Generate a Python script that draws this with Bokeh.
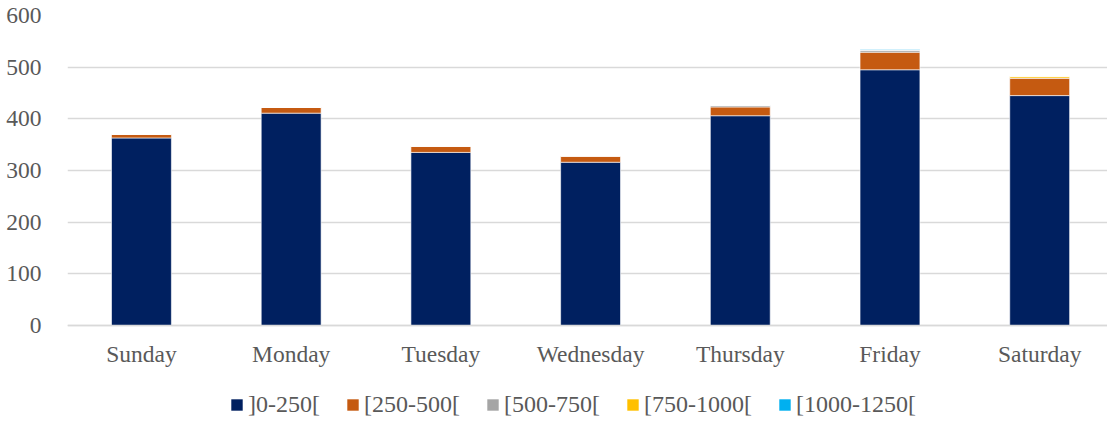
from bokeh.plotting import figure
from bokeh.models import Range1d, FixedTicker, Legend, LegendItem
from bokeh.embed import file_html
from bokeh.resources import INLINE

days = ["Sunday", "Monday", "Tuesday", "Wednesday", "Thursday", "Friday", "Saturday"]
series_names = ["]0-250[", "[250-500[", "[500-750[", "[750-1000[", "[1000-1250["]
s0_250 = [363, 411, 335, 316, 406, 495, 445]
s250_500 = [7, 11, 12, 12, 17, 34, 34]
s500_750 = [0, 0, 0, 0, 3, 4, 0]
s750_1000 = [0, 0, 0, 0, 0, 0, 3]
s1000_1250 = [0, 0, 0, 0, 0, 1, 0]
y_ticks = [0, 100, 200, 300, 400, 500, 600]
colors = ["#002060", "#C55A11", "#A5A5A5", "#FFC000", "#00B0F0"]

FONT = "Liberation Serif"
TXT = "#595959"
GRID = "#D9D9D9"

x = list(range(len(days)))
keys = ["s0", "s1", "s2", "s3", "s4"]
data = dict(x=x, s0=s0_250, s1=s250_500, s2=s500_750, s3=s750_1000, s4=s1000_1250)

# frame spans the full height below the top margin; value 0 sits 96 px above the bottom
p = figure(width=1107, height=421, output_backend="svg", toolbar_location=None,
           x_range=Range1d(-0.494, 6.453), y_range=Range1d(-185.8, 600),
           min_border_left=67, min_border_right=0, min_border_top=15, min_border_bottom=0)
p.outline_line_color = None

rs = p.vbar_stack(keys, x="x", width=0.4, source=data, color=colors,
                  line_color="white", line_width=0.6)

p.xaxis.fixed_location = 0
p.xaxis.ticker = FixedTicker(ticks=x)
p.xaxis.major_label_overrides = {i: d for i, d in enumerate(days)}
p.xaxis.major_tick_line_color = None
p.xaxis.minor_tick_line_color = None
p.xaxis.axis_line_color = GRID
p.xaxis.axis_line_width = 1.5
p.xaxis.major_label_standoff = 9
p.xaxis.major_label_text_font = FONT
p.xaxis.major_label_text_font_size = "23.5px"
p.xaxis.major_label_text_color = TXT
p.xgrid.grid_line_color = None

p.yaxis.ticker = FixedTicker(ticks=y_ticks)
p.yaxis.axis_line_color = None
p.yaxis.major_tick_line_color = None
p.yaxis.minor_tick_line_color = None
p.yaxis.major_label_standoff = 20
p.yaxis.major_label_text_font = FONT
p.yaxis.major_label_text_font_size = "23.5px"
p.yaxis.major_label_text_color = TXT
p.ygrid.grid_line_color = GRID
p.ygrid.grid_line_width = 1.5

items = [LegendItem(label=n, renderers=[r]) for n, r in zip(series_names, rs)]
lg = Legend(items=items, orientation="horizontal", location=(162, 3),
            border_line_color=None, background_fill_alpha=0,
            padding=0, margin=0, spacing=25, glyph_width=15, glyph_height=15,
            label_standoff=4, label_text_font=FONT, label_text_font_size="24px",
            label_text_color=TXT)
p.add_layout(lg, "center")

open("out.html", "w").write(file_html(p, INLINE))
